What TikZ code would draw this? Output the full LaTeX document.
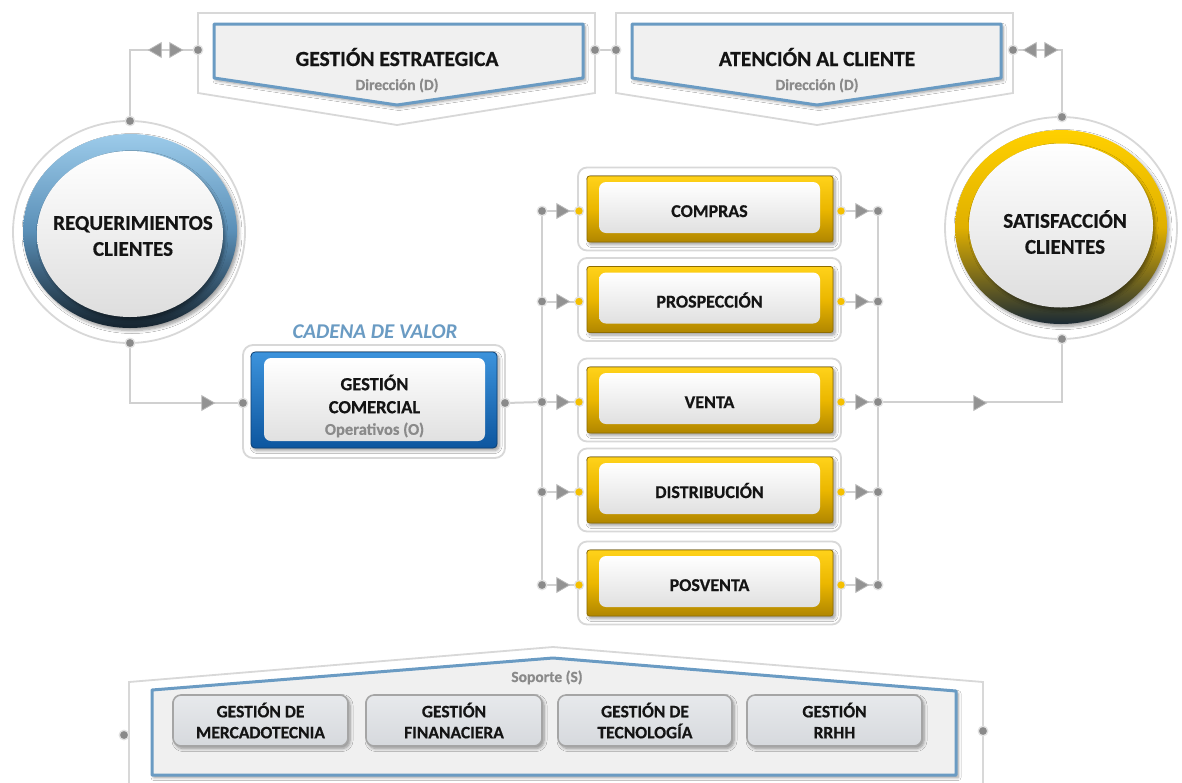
\documentclass[tikz,border=0pt]{standalone}
\usepackage{fontspec}
\setmainfont{Carlito}[BoldFeatures={FakeBold=0.6}]
\usetikzlibrary{shapes.geometric,shadows.blur}
\newcommand\fsz[2]{\fontsize{#1}{#2}\selectfont}
\definecolor{lineg}{HTML}{D0D0D0}
\definecolor{frameg}{HTML}{D8D8D8}
\definecolor{dotg}{HTML}{8A8A8A}
\definecolor{dotrim}{HTML}{E2E2E2}
\definecolor{trig}{HTML}{939393}
\definecolor{tririm}{HTML}{B8B8B8}
\definecolor{steel}{HTML}{6A9BC3}
\definecolor{panel}{HTML}{F0F0F0}
\definecolor{ydot}{HTML}{F5C000}
\definecolor{subg}{HTML}{8A8A8A}
\definecolor{txt}{HTML}{141414}
\definecolor{bluetop}{HTML}{3C93DC}
\definecolor{bluebot}{HTML}{0D569F}
\definecolor{blueedge}{HTML}{0B3F73}
\definecolor{goldtop}{HTML}{FFD21A}
\definecolor{goldmid}{HTML}{EBB700}
\definecolor{goldbot}{HTML}{B08600}
\definecolor{goldedge}{HTML}{8F6D00}
\definecolor{ringbtop}{HTML}{9CCBEA}
\definecolor{ringbmid}{HTML}{5A8FB7}
\definecolor{ringbbot}{HTML}{15232E}
\definecolor{ringytop}{HTML}{FFD000}
\definecolor{ringymid}{HTML}{E0B000}
\definecolor{ringybot}{HTML}{1B2A35}
\definecolor{sboxtop}{HTML}{E7E9EC}
\definecolor{sboxbot}{HTML}{D6D9DD}
\definecolor{sboxedge}{HTML}{A5A5A5}
\begin{document}
\begin{tikzpicture}[x=1pt,y=-1pt,
  conn/.style={draw=lineg,line width=2pt},
  gdot/.style={circle,fill=dotg,draw=dotrim,line width=1.3pt,minimum size=9.5pt,inner sep=0pt},
  ydotn/.style={circle,fill=ydot,draw=dotrim,line width=1.3pt,minimum size=9pt,inner sep=0pt},
  trir/.style={regular polygon,regular polygon sides=3,shape border rotate=-90,fill=trig,draw=tririm,line width=0.8pt,minimum size=17pt,inner sep=0pt},
  tril/.style={trir,shape border rotate=90},
  frame/.style={draw=frameg,line width=1.8pt,fill=white},
  soft/.style={blur shadow={shadow xshift=2pt,shadow yshift=-2.5pt,shadow blur radius=3pt,shadow blur steps=6,shadow opacity=40}},
  panelp/.style={fill=panel,draw=steel,line width=3pt,line join=round,soft},
  title/.style={font=\bfseries\fsz{21.5}{25},text=txt,inner sep=0pt},
  sub/.style={font=\bfseries\fsz{15.5}{18},text=subg,inner sep=0pt},
  ringtext/.style={font=\bfseries\fsz{21}{26},text=txt,align=center,inner sep=0pt},
  ybox/.style={top color=goldtop,bottom color=goldbot,middle color=goldmid,draw=goldedge,line width=0.8pt,rounded corners=2.5pt,soft},
  bbox/.style={top color=bluetop,bottom color=bluebot,draw=blueedge,line width=0.8pt,rounded corners=4pt,soft},
  wnode/.style={rectangle,rounded corners=7pt,top color=white,bottom color=black!12,font=\bfseries\fsz{18}{21},text=txt,text height=19pt,text depth=0pt,inner sep=0pt},
  sbox/.style={rectangle,rounded corners=8pt,minimum width=175pt,minimum height=51pt,top color=sboxtop,bottom color=sboxbot,draw=sboxedge,line width=1.6pt,soft,align=center,font=\bfseries\fsz{17.5}{21},text=txt,inner sep=0pt}
]
\useasboundingbox (0,0) rectangle (1182,782);
\fill[white] (0,0) rectangle (1182,782);
\clip (0,0) rectangle (1182,782);

% ---- connection points ----
\coordinate (rqT) at (130,121);
\coordinate (rqB) at (130,343);
\coordinate (scT) at (1062,117);
\coordinate (scB) at (1062,339);
\coordinate (geL) at (198,50);
\coordinate (geR) at (595,50);
\coordinate (atL) at (616,50);
\coordinate (atR) at (1013,50);
\coordinate (gcL) at (243,403);
\coordinate (gcR) at (505,403);
\foreach \n/\yc in {comp/209,pros/299.5,vent/400,dist/490,posv/583}{
  \coordinate (bl\n) at (542,\yc+2);
  \coordinate (yl\n) at (579,\yc+2);
  \coordinate (yr\n) at (841,\yc+2);
  \coordinate (br\n) at (878,\yc+2);
}

% ---- connectors (under everything else) ----
\draw[conn] (rqT) |- (geL);
\draw[conn] (geR) -- (atL);
\draw[conn] (atR) -| (scT);
\draw[conn] (rqB) |- (gcL);
\draw[conn] (gcR) -- (blvent);
\draw[conn] (blcomp) -- (blposv);
\draw[conn] (brcomp) -- (brposv);
\draw[conn] (brvent) -| (scB);
\foreach \n in {comp,pros,vent,dist,posv}{
  \draw[conn] (bl\n) -- (yl\n);
  \draw[conn] (yr\n) -- (br\n);
}

% ---- Dirección: two chevron panels ----
\draw[frame] (198,13) -- (595,13) -- (595,93) -- (397,125) -- (198,93) -- cycle;
\path[panelp] (214,24) -- (583,24) -- (583,78) -- (397,105) -- (214,78) -- cycle;
\node[title,anchor=base] (gest) at (397,66) {GESTIÓN ESTRATEGICA};
\node[sub,anchor=base] (gestsub) at (397,90) {Dirección (D)};

\draw[frame] (616,13) -- (1013,13) -- (1013,93) -- (817,125) -- (616,93) -- cycle;
\path[panelp] (632,24) -- (1001,24) -- (1001,78) -- (817,105) -- (632,78) -- cycle;
\node[title,anchor=base] (aten) at (817,66) {ATENCIÓN AL CLIENTE};
\node[sub,anchor=base] (atensub) at (817,90) {Dirección (D)};

% ---- customer circles ----
\draw[frame] (129,232) ellipse [x radius=116,y radius=111];
\path[soft,top color=ringbtop,bottom color=ringbbot,middle color=ringbmid] (130,231) ellipse [x radius=107,y radius=97];
\path[soft,top color=white,bottom color=black!13] (130,234) ellipse [x radius=93,y radius=83];
\node[ringtext] (req) at (133,236) {REQUERIMIENTOS\\CLIENTES};

\draw[frame] (1061,228) ellipse [x radius=116,y radius=111];
\path[soft,top color=ringytop,bottom color=ringybot,middle color=ringymid] (1061,227) ellipse [x radius=106,y radius=97];
\path[soft,top color=white,bottom color=black!13] (1061,225.5) ellipse [x radius=92,y radius=82];
\node[ringtext] (sat) at (1065,232) {SATISFACCIÓN\\CLIENTES};

% ---- cadena de valor ----
\node[font=\bfseries\itshape\fsz{21}{24},text=steel,inner sep=0pt] (cdv) at (375,332) {CADENA DE VALOR};
\draw[frame,rounded corners=10pt] (243,345) rectangle (505,458);
\path[bbox] (251,352) rectangle (497,448);
\path[rounded corners=7pt,top color=white,bottom color=black!12] (264,358) rectangle (485,441);
\node[font=\bfseries\fsz{18.5}{23},text=txt,align=center,inner sep=0pt] (gcom) at (374.5,394) {GESTIÓN\\COMERCIAL};
\node[sub,font=\bfseries\fsz{16.5}{18}] (gcomsub) at (374.5,430) {Operativos (O)};

\foreach \n/\yc/\t in {comp/209/COMPRAS,pros/299.5/PROSPECCIÓN,vent/400/VENTA,dist/490/DISTRIBUCIÓN,posv/583/POSVENTA}{
  \draw[frame,rounded corners=9pt] (578,\yc-41.5) rectangle (841,\yc+41.5);
  \path[ybox] (587,\yc-33) rectangle (833,\yc+33);
  \node[wnode,minimum width=221pt,minimum height=51pt] (\n) at (709.5,\yc-1.5) {\t};
  \node[gdot] (bl\n-dot) at (bl\n) {};
  \node[trir] (tl\n) at (561,\yc+2) {};
  \node[ydotn] (yl\n-dot) at (yl\n) {};
  \node[ydotn] (yr\n-dot) at (yr\n) {};
  \node[trir] (tr\n) at (860,\yc+2) {};
  \node[gdot] (br\n-dot) at (br\n) {};
}

% ---- soporte ----
\draw[frame] (129,800) -- (129,682) -- (553,647) -- (983,682) -- (983,800);
\path[panelp] (152,690) -- (553,658) -- (956,691) -- (956,775) -- (152,775) -- cycle;
\node[sub,anchor=base] (sop) at (547,682) {Soporte (S)};
\node[sbox] (mkt) at (260.5,720.5) {GESTIÓN DE\\MERCADOTECNIA};
\node[sbox,minimum width=176pt] (fin) at (454,720.5) {GESTIÓN\\FINANACIERA};
\node[sbox,minimum width=174pt] (tec) at (645,720.5) {GESTIÓN DE\\TECNOLOGÍA};
\node[sbox] (rrhh) at (834.5,720.5) {GESTIÓN\\RRHH};
\node[gdot] (sopL) at (124,735) {};
\node[gdot] (sopR) at (983,731) {};

% ---- dots and arrow heads on the flow ----
\foreach \c in {rqT,rqB,scT,scB,geL,geR,atL,atR,gcL,gcR}{
  \node[gdot] (\c-dot) at (\c) {};
}
\node[tril] (ta) at (157,50) {};
\node[trir] (tb) at (174,50) {};
\node[tril] (tc) at (1032,50) {};
\node[trir] (td) at (1049,50) {};
\node[trir] (te) at (206,403) {};
\node[trir] (tf) at (978,403) {};
\end{tikzpicture}
\end{document}
